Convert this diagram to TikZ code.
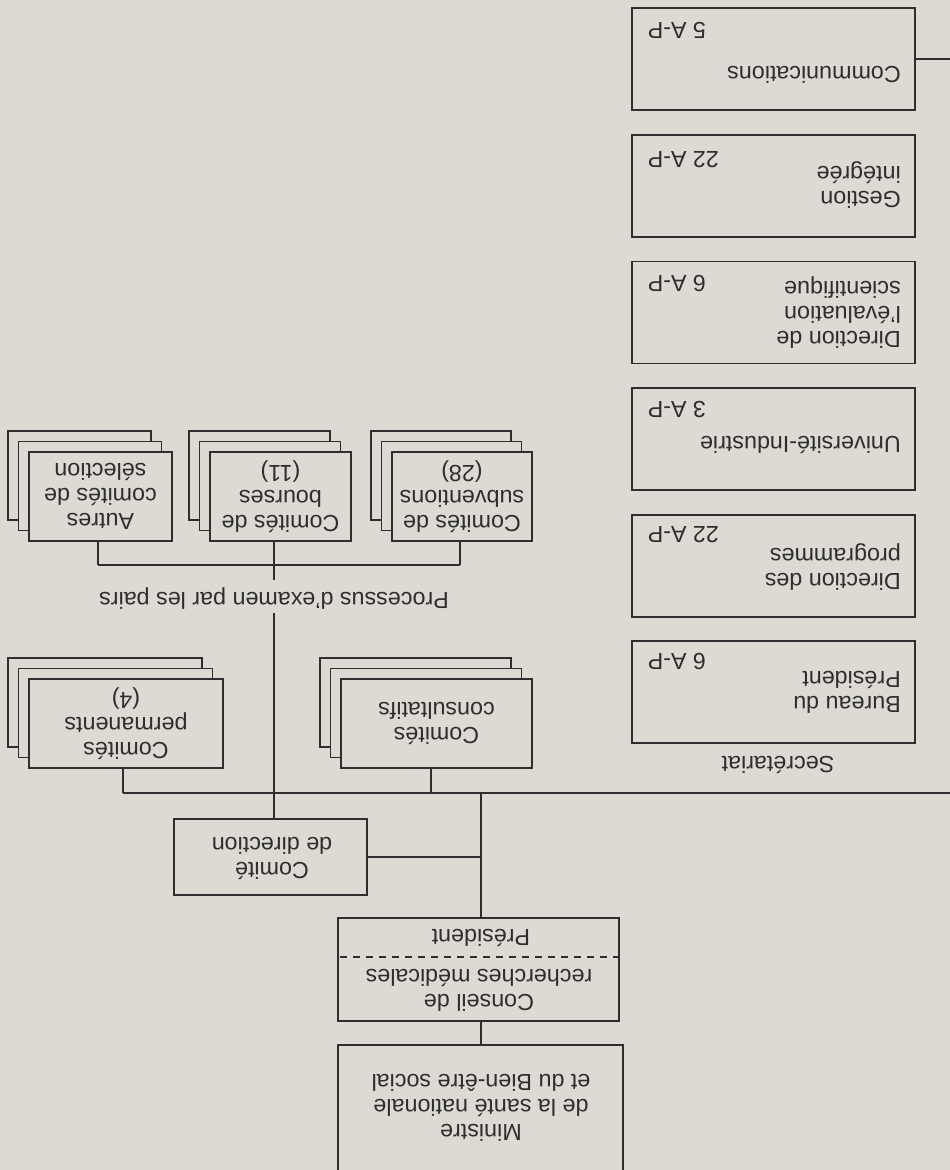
\documentclass[tikz,border=0pt]{standalone}
\usepackage{fontspec}
\setmainfont{Liberation Sans}
\definecolor{paper}{HTML}{DDDAD3}
\definecolor{ink}{HTML}{2E2E2E}
\tikzset{
  box/.style={draw=ink, fill=paper, line width=1.6pt, inner sep=0pt},
  txt/.style={inner sep=0pt, align=center, text=ink, font=\fontsize{23.3}{25}\selectfont},
  ltxt/.style={txt, align=left, anchor=west},
  aptxt/.style={txt, anchor=east},
  conn/.style={draw=ink, line width=1.6pt},
}
\newcommand\stk[6]{%
  \node[box, minimum width=#4pt, minimum height=#5pt] (#1b) at (#2+21,#3+21) {};
  \node[box, minimum width=#4pt, minimum height=#5pt] (#1m) at (#2+10.5,#3+10.5) {};
  \node[box, minimum width=#4pt, minimum height=#5pt] (#1) at (#2,#3) {};
  \node[txt] (#1t) at (#1) {#6};
}
\newcommand\secbox[6]{%
  \node[box, minimum width=283pt, minimum height=102pt] (#1) at (176.5,#2) {};
  \node[ltxt] (#1t) at (49,#3) {#4};
  \node[aptxt] (#1a) at (302.5,#5) {#6};
}
\begin{document}
\begin{tikzpicture}[x=1pt, y=-1pt, rotate=180, transform shape]
\useasboundingbox (0,0) rectangle (950,1170);
\fill[paper] (0,0) rectangle (950,1170);
\clip (0,0) rectangle (950,1170);

% Ministre and Conseil
\node[box, minimum width=285pt, minimum height=135pt] (min) at (469.5,57.5) {};
\node[txt] (mint) at (469,62) {Ministre\\de la santé nationale\\et du Bien-être social};
\node[box, minimum width=281pt, minimum height=103pt] (cons) at (471.5,200.5) {};
\coordinate (dsh) at (0,213);
\draw[ink, line width=1.4pt, dash pattern=on 7pt off 6pt] (cons.west |- dsh) -- (cons.east |- dsh);
\node[txt] (const) at (471,180) {Conseil de\\recherches médicales};
\node[txt] (pres) at (469,232) {Président};

% Comite de direction
\node[box, minimum width=193pt, minimum height=76pt] (dir) at (679.5,313) {};
\node[txt] (dirt) at (678,312) {Comité\\de direction};

% Secretariat column
\node[txt] (sec) at (172,405) {Secrétariat};
\secbox{bur}{478}{478}{Bureau du\\Président}{508}{6 A-P}
\secbox{prog}{604}{603}{Direction des\\programmes}{635}{22 A-P}
\secbox{univ}{731}{725}{Université-Industrie}{760}{3 A-P}
\secbox{eval}{857.5}{857}{Direction de\\l'évaluation\\scientifique}{886}{6 A-P}
\secbox{gest}{984}{985}{Gestion\\intégrée}{1010}{22 A-P}
\secbox{comm}{1111}{1095}{Communications}{1140}{5 A-P}

% Stacks
\stk{consu}{513.5}{446.5}{191}{89}{Comités\\consultatifs}
\stk{perm}{824}{446.5}{194}{89}{Comités\\permanents\\(4)}
\stk{sub}{488}{673.5}{140}{89}{Comités de\\subventions\\(28)}
\stk{bou}{669.5}{673.5}{141}{89}{Comités de\\bourses\\(11)}
\stk{aut}{849.5}{673.5}{143}{89}{Autres\\comités de\\sélection}

\node[txt] (proc) at (676,571) {Processus d'examen par les pairs};

% Connectors
\coordinate (v1) at (469,377);
\coordinate (v2) at (676,377);
\coordinate (busL) at (0,377);
\coordinate (busR) at (827,377);
\coordinate (bc) at (519,377);
\coordinate (commE) at (0,1111);
\coordinate (p1) at (676,557);
\coordinate (p2) at (676,590);
\coordinate (bk) at (676,605);
\coordinate (bkL) at (490,605);
\coordinate (bkR) at (852,605);

\draw[conn] (min.south -| v1) -- (cons.north -| v1);
\draw[conn] (cons.south -| v1) -- (v1);
\draw[conn] (dir.west) -- (dir.west -| v1);
\draw[conn] (dir.south -| v2) -- (v2);
\draw[conn] (busL) -- (busR);
\draw[conn] (comm.west) -- (commE);
\draw[conn] (bc) -- (bc |- consu.north);
\draw[conn] (busR) -- (busR |- perm.north);
\draw[conn] (v2) -- (p1);
\draw[conn] (p2) -- (bk);
\draw[conn] (bkL) -- (bkR);
\draw[conn] (bkL) -- (bkL |- sub.north);
\draw[conn] (bk) -- (bk |- bou.north);
\draw[conn] (bkR) -- (bkR |- aut.north);
\end{tikzpicture}
\end{document}
